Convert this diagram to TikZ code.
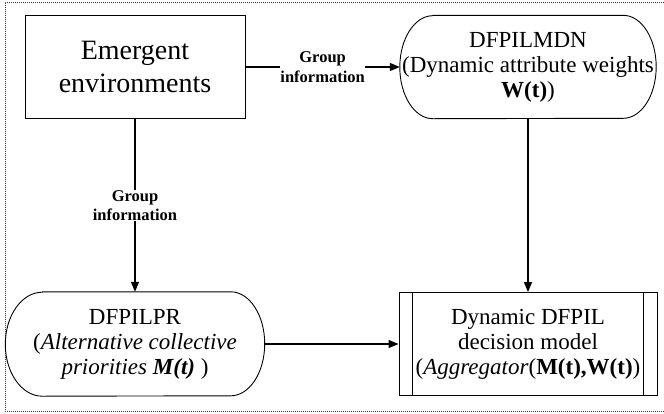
\documentclass[tikz,border=0pt]{standalone}
\usepackage{fontspec}
\setmainfont{Liberation Serif}
\usetikzlibrary{arrows.meta}
\begin{document}
\begin{tikzpicture}[x=1pt,y=-1pt]
\tikzset{
  txt/.style={align=center, font=\fontsize{23}{25}\selectfont, inner sep=0pt},
  lab/.style={align=center, font=\fontsize{16.5}{19.5}\selectfont\bfseries, fill=white, inner sep=0.5pt},
  conn/.style={line width=1.3pt, -{Triangle[length=10pt,width=8pt]}},
  outline/.style={line width=0.9pt},
  frame/.style={line width=0.7pt, gray!50!black, dash pattern=on 1pt off 1pt}
}
\useasboundingbox (0,0) rectangle (664,413);
\draw[frame] (668,2) -- (5,2) -- (5,411) -- (668,411);

\node[txt, draw, outline, minimum width=220pt, minimum height=103pt,
      font=\fontsize{28}{33}\selectfont] (env) at (135,67) {Emergent\\environments};

\node[txt, minimum width=256pt, minimum height=103pt] (mdn) at (528,67)
  {DFPILMDN\\(Dynamic attribute weights\\\textbf{W(t)})};
\draw[outline] ([xshift=33pt]mdn.north west) -- ([xshift=-33pt]mdn.north east)
  arc[start angle=90, end angle=-90, x radius=33pt, y radius=51.5pt]
  -- ([xshift=33pt]mdn.south west)
  arc[start angle=270, end angle=90, x radius=33pt, y radius=51.5pt] -- cycle;

\node[txt, minimum width=259pt, minimum height=104pt] (pr) at (135,344)
  {DFPILPR\\(\textit{Alternative collective}\\\textit{priorities \textbf{M(t)}} )};
\draw[outline] ([xshift=37pt]pr.north west) -- ([xshift=-34pt]pr.north east)
  arc[start angle=90, end angle=-90, x radius=34pt, y radius=52pt]
  -- ([xshift=37pt]pr.south west)
  arc[start angle=270, end angle=90, x radius=37pt, y radius=52pt] -- cycle;

\node[txt, draw, outline, minimum width=258pt, minimum height=103pt] (dyn) at (528,344)
  {Dynamic DFPIL\\decision model\\(\textit{Aggregator}(\textbf{M(t),W(t)})};
\draw[outline] ([xshift=14pt]dyn.north west) -- ([xshift=14pt]dyn.south west);
\draw[outline] ([xshift=-14pt]dyn.north east) -- ([xshift=-14pt]dyn.south east);

\draw[conn] (env.east) -- node[lab] {Group\\information} (mdn.west);
\draw[conn] (env.south) -- node[lab] {Group\\information} (pr.north);
\draw[conn] (pr.east) -- (dyn.west);
\draw[conn] (mdn.south) -- (dyn.north);
\end{tikzpicture}
\end{document}
